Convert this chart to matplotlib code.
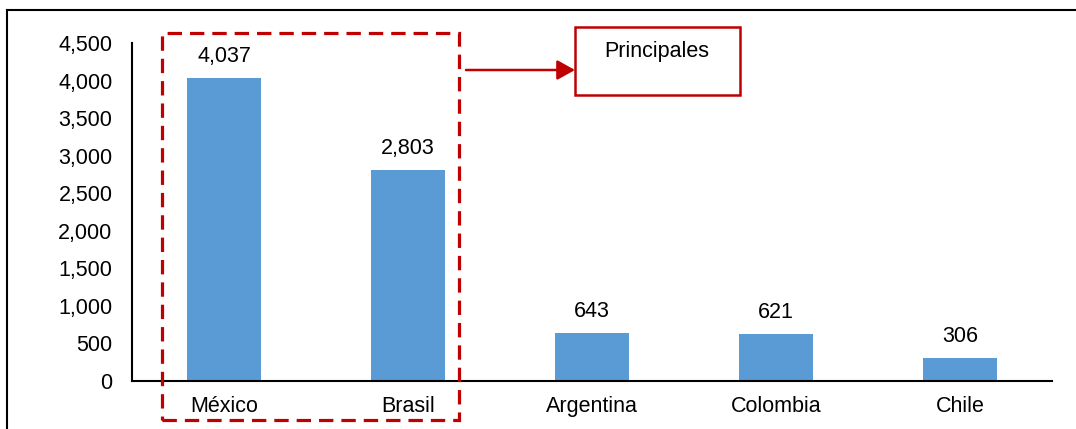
import matplotlib.pyplot as plt
from matplotlib.patches import Rectangle, FancyArrowPatch
from matplotlib.lines import Line2D
from matplotlib.ticker import FuncFormatter

plt.rcParams['font.family'] = ['Liberation Sans', 'DejaVu Sans']

countries = ["México", "Brasil", "Argentina", "Colombia", "Chile"]
values = [4037, 2803, 643, 621, 306]

W, H = 1076, 429
fs = 15.5
fig = plt.figure(figsize=(W / 100, H / 100), dpi=100)
ax = fig.add_axes([132 / W, 1 - 381 / H, (1052 - 132) / W, (381 - 43) / H])

x = range(len(countries))
ax.bar(x, values, width=0.40, color="#5B9BD5")
for i, v in enumerate(values):
    ax.annotate(f"{v:,}", (i, v), xytext=(0, 8), textcoords="offset points",
                ha="center", va="bottom", fontsize=fs)

ax.set_xlim(-0.5, len(countries) - 0.5)
ax.set_ylim(0, 4500)
ax.set_yticks(range(0, 4501, 500))
ax.yaxis.set_major_formatter(FuncFormatter(lambda v, p: f"{int(v):,}"))
ax.set_xticks(list(x))
ax.set_xticklabels(countries)
ax.tick_params(axis="both", length=0, labelsize=fs)
ax.tick_params(axis="x", pad=11)
ax.tick_params(axis="y", pad=14)
for s in ["top", "right"]:
    ax.spines[s].set_visible(False)
for s in ["left", "bottom"]:
    ax.spines[s].set_linewidth(1.5)

red = "#C00000"
# dashed box around the two main countries
fig.add_artist(Rectangle((162 / W, 1 - 420 / H), (459 - 162) / W, (420 - 33) / H,
                         transform=fig.transFigure, fill=False, edgecolor=red,
                         linewidth=2.3, linestyle=(0, (4.5, 2.5))))
# arrow and label box
fig.add_artist(FancyArrowPatch((466 / W, 1 - 70 / H), (575 / W, 1 - 70 / H),
                               transform=fig.transFigure,
                               arrowstyle="-|>,head_length=0.45,head_width=0.25",
                               mutation_scale=24, color=red, linewidth=1.8,
                               shrinkA=0, shrinkB=0))
fig.add_artist(Rectangle((575 / W, 1 - 95 / H), (740 - 575) / W, (95 - 27) / H,
                         transform=fig.transFigure, fill=False, edgecolor=red,
                         linewidth=1.8))
fig.text(657 / W, 1 - 51 / H, "Principales", ha="center", va="center", fontsize=fs)

# outer frame (left and top edges visible)
fig.add_artist(Line2D([7 / W, 7 / W], [0, 1 - 10 / H], color="black", linewidth=1.5,
                      transform=fig.transFigure))
fig.add_artist(Line2D([7 / W, 1], [1 - 10 / H, 1 - 10 / H], color="black", linewidth=1.5,
                      transform=fig.transFigure))

fig.savefig("out.png", dpi=100)
